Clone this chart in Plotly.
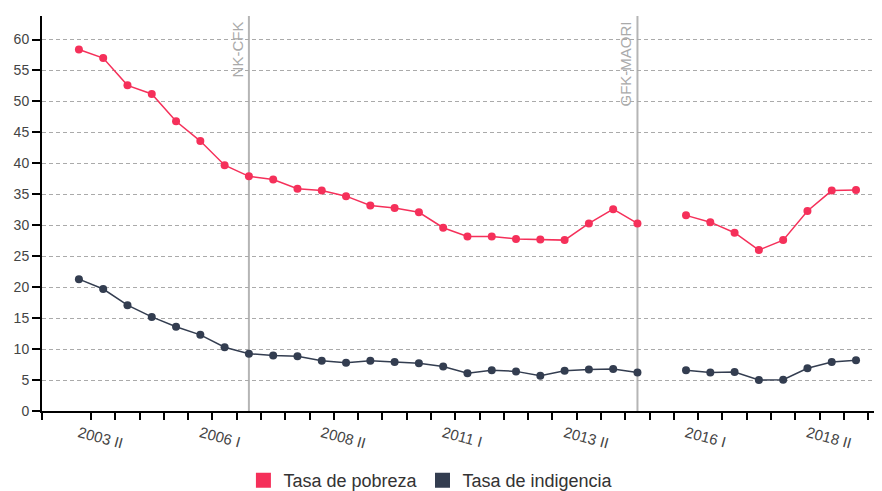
import plotly.graph_objects as go

# ---- data ----
categories = []
for yr in range(2003, 2020):
    for sem in ["I", "II"]:
        categories.append(f"{yr} {sem}")
categories = categories[1:]  # starts at 2003 II -> 2019 II

pobreza = [58.4, 57.0, 52.6, 51.2, 46.8, 43.6, 39.7, 37.9, 37.4, 35.9, 35.6,
           34.7, 33.2, 32.8, 32.1, 29.6, 28.2, 28.2, 27.8, 27.7, 27.6, 30.3,
           32.6, 30.3, None, 31.6, 30.5, 28.8, 26.0, 27.6, 32.3, 35.6, 35.7]
indigencia = [21.3, 19.7, 17.1, 15.2, 13.6, 12.3, 10.3, 9.25, 8.95, 8.85, 8.1,
              7.8, 8.1, 7.9, 7.7, 7.2, 6.1, 6.6, 6.4, 5.7, 6.5, 6.7,
              6.8, 6.2, None, 6.6, 6.2, 6.3, 5.0, 5.05, 6.9, 7.9, 8.2]
tick_labels = ["2003 II", "2006 I", "2008 II", "2011 I", "2013 II", "2016 I", "2018 II"]
event_names = ["NK-CFK", "GFK-MAORI"]
event_periods = ["2007 I", "2015 I"]
series_names = ["Tasa de pobreza", "Tasa de indigencia"]

RED = "#f5305a"
DARK = "#333d50"

x = list(range(len(categories)))

fig = go.Figure()
for name, vals, col in [(series_names[0], pobreza, RED), (series_names[1], indigencia, DARK)]:
    fig.add_trace(go.Scatter(
        x=x, y=vals, mode="lines+markers", name=name, showlegend=False,
        line=dict(color=col, width=1.5), marker=dict(color=col, size=8),
        connectgaps=False, hoverinfo="skip"))
    fig.add_trace(go.Scatter(
        x=[None], y=[None], mode="markers", name=name,
        marker=dict(color=col, size=15, symbol="square")))

for ev, per in zip(event_names, event_periods):
    xi = categories.index(per)
    fig.add_shape(type="line", xref="x", yref="paper", x0=xi, x1=xi, y0=0, y1=1,
                  line=dict(color="#b5b5b5", width=2), layer="below")
    fig.add_annotation(x=xi, xref="x", y=1, yref="paper", text=ev, textangle=-90,
                       showarrow=False, xanchor="right", yanchor="top",
                       xshift=-1, yshift=-3,
                       font=dict(family="Liberation Sans, Arial", size=15, color="#aaaaaa"))

# the page body adds an 8px offset, so the figure is 8px smaller with matching margins
fig.update_layout(
    width=874, height=483,
    margin=dict(l=34, r=0, t=8, b=80, autoexpand=False),
    plot_bgcolor="white", paper_bgcolor="white",
    font=dict(family="Liberation Sans, Arial", color="#444"),
    legend=dict(orientation="h", x=0.463, xanchor="center", y=-0.176, yanchor="middle",
                font=dict(size=18, color="#333"), itemclick=False),
    xaxis=dict(
        range=[-1.52, 33.07], showgrid=False, zeroline=False, automargin=False,
        showline=True, linecolor="black", linewidth=2,
        tickmode="array", tickvals=[categories.index(t) for t in tick_labels],
        ticktext=tick_labels, ticks="", tickangle=15,
        tickfont=dict(size=15, color="#444"), ticklabelstandoff=6,
        minor=dict(tickmode="array",
                   tickvals=[-1.5] + [i + 0.5 for i in range(len(categories))],
                   ticks="outside", ticklen=7, tickwidth=2, tickcolor="black",
                   showgrid=False),
    ),
    yaxis=dict(
        range=[0, 63.8], tickvals=list(range(0, 61, 5)), automargin=False,
        showgrid=True, gridcolor="#aaaaaa", gridwidth=1, griddash="4px,3px",
        zeroline=False, showline=True, linecolor="black", linewidth=2,
        ticks="outside", ticklen=8, tickwidth=2, tickcolor="black",
        tickfont=dict(size=14, color="#444"),
    ),
)

fig.write_html("out.html")
